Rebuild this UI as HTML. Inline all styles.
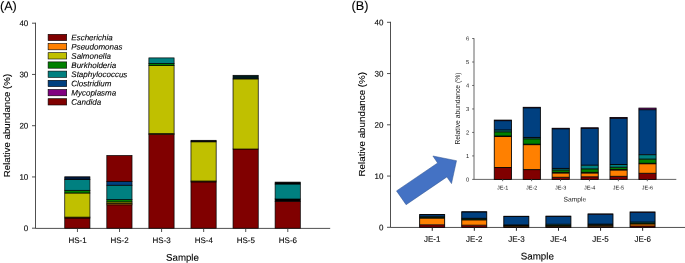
<!DOCTYPE html>
<html><head><meta charset="utf-8"><title>Relative abundance</title>
<style>
html,body{margin:0;padding:0;background:#fff;}
body{width:685px;height:263px;overflow:hidden;}
svg{display:block;font-family:"Liberation Sans",Arial,Helvetica,sans-serif;fill:#000;}
text{stroke:#000;stroke-width:0.1px;}
text.sm{stroke:none;fill:#222;}
</style></head>
<body>
<svg width="685" height="263" viewBox="0 0 685 263">
<rect x="0" y="0" width="685" height="263" fill="#fff" stroke="none"/>
<text x="0" y="10.2" transform="rotate(0.04 0 10.2)" font-size="12.6" text-anchor="start" >(A)</text>
<path d="M35.5 22.69999999999999V228.39999999999998H330.2" fill="none" stroke="#303030" stroke-width="0.85"/>
<path d="M32.0 228.20H35.5" stroke="#303030" stroke-width="0.85"/>
<text x="28.3" y="231.10" transform="rotate(0.04 28.3 231.10)" font-size="8" text-anchor="end" >0</text>
<path d="M32.0 176.95H35.5" stroke="#303030" stroke-width="0.85"/>
<text x="28.3" y="179.85" transform="rotate(0.04 28.3 179.85)" font-size="8" text-anchor="end" >10</text>
<path d="M32.0 125.70H35.5" stroke="#303030" stroke-width="0.85"/>
<text x="28.3" y="128.60" transform="rotate(0.04 28.3 128.60)" font-size="8" text-anchor="end" >20</text>
<path d="M32.0 74.45H35.5" stroke="#303030" stroke-width="0.85"/>
<text x="28.3" y="77.35" transform="rotate(0.04 28.3 77.35)" font-size="8" text-anchor="end" >30</text>
<path d="M32.0 23.20H35.5" stroke="#303030" stroke-width="0.85"/>
<text x="28.3" y="26.10" transform="rotate(0.04 28.3 26.10)" font-size="8" text-anchor="end" >40</text>
<text transform="translate(10 125.5) rotate(-90)" font-size="9.7" text-anchor="middle">Relative abundance (%)</text>
<rect x="64.75" y="218.00" width="25.20" height="10.20" fill="#800000" stroke="#000" stroke-width="0.7"/>
<rect x="64.75" y="217.10" width="25.20" height="0.90" fill="#FF8000" stroke="#000" stroke-width="0.7"/>
<rect x="64.75" y="193.00" width="25.20" height="24.10" fill="#C0C000" stroke="#000" stroke-width="0.7"/>
<rect x="64.75" y="190.30" width="25.20" height="2.70" fill="#008000" stroke="#000" stroke-width="0.7"/>
<rect x="64.75" y="179.50" width="25.20" height="10.80" fill="#008080" stroke="#000" stroke-width="0.7"/>
<rect x="64.75" y="176.80" width="25.20" height="2.70" fill="#00183A" stroke="#000" stroke-width="0.7"/>
<path d="M77.45 228.2V232.0" stroke="#303030" stroke-width="0.85"/>
<rect x="106.82" y="204.80" width="25.20" height="23.40" fill="#800000" stroke="#000" stroke-width="0.7"/>
<rect x="106.82" y="203.30" width="25.20" height="1.50" fill="#FF8000" stroke="#000" stroke-width="0.7"/>
<rect x="106.82" y="201.90" width="25.20" height="1.40" fill="#C0C000" stroke="#000" stroke-width="0.7"/>
<rect x="106.82" y="199.60" width="25.20" height="2.30" fill="#008000" stroke="#000" stroke-width="0.7"/>
<rect x="106.82" y="185.20" width="25.20" height="14.40" fill="#008080" stroke="#000" stroke-width="0.7"/>
<rect x="106.82" y="181.60" width="25.20" height="3.60" fill="#004080" stroke="#000" stroke-width="0.7"/>
<rect x="106.82" y="155.50" width="25.20" height="26.10" fill="#800000" stroke="#000" stroke-width="0.7"/>
<path d="M119.52 228.2V232.0" stroke="#303030" stroke-width="0.85"/>
<rect x="148.89" y="134.40" width="25.20" height="93.80" fill="#800000" stroke="#000" stroke-width="0.7"/>
<rect x="148.89" y="133.60" width="25.20" height="0.80" fill="#FF8000" stroke="#000" stroke-width="0.7"/>
<rect x="148.89" y="65.60" width="25.20" height="68.00" fill="#C0C000" stroke="#000" stroke-width="0.7"/>
<rect x="148.89" y="63.40" width="25.20" height="2.20" fill="#008000" stroke="#000" stroke-width="0.7"/>
<rect x="148.89" y="57.90" width="25.20" height="5.50" fill="#008080" stroke="#000" stroke-width="0.7"/>
<path d="M161.59 228.2V232.0" stroke="#303030" stroke-width="0.85"/>
<rect x="190.96" y="181.90" width="25.20" height="46.30" fill="#800000" stroke="#000" stroke-width="0.7"/>
<rect x="190.96" y="181.00" width="25.20" height="0.90" fill="#FF8000" stroke="#000" stroke-width="0.7"/>
<rect x="190.96" y="141.80" width="25.20" height="39.20" fill="#C0C000" stroke="#000" stroke-width="0.7"/>
<rect x="190.96" y="140.30" width="25.20" height="1.50" fill="#000000" stroke="#000" stroke-width="0.7"/>
<path d="M203.66 228.2V232.0" stroke="#303030" stroke-width="0.85"/>
<rect x="233.03" y="149.00" width="25.20" height="79.20" fill="#800000" stroke="#000" stroke-width="0.7"/>
<rect x="233.03" y="78.90" width="25.20" height="70.10" fill="#C0C000" stroke="#000" stroke-width="0.7"/>
<rect x="233.03" y="75.30" width="25.20" height="3.60" fill="#001C1C" stroke="#000" stroke-width="0.7"/>
<path d="M245.73 228.2V232.0" stroke="#303030" stroke-width="0.85"/>
<rect x="275.10" y="201.20" width="25.20" height="27.00" fill="#800000" stroke="#000" stroke-width="0.7"/>
<rect x="275.10" y="199.00" width="25.20" height="2.20" fill="#000000" stroke="#000" stroke-width="0.7"/>
<rect x="275.10" y="184.00" width="25.20" height="15.00" fill="#008080" stroke="#000" stroke-width="0.7"/>
<rect x="275.10" y="182.10" width="25.20" height="1.90" fill="#000000" stroke="#000" stroke-width="0.7"/>
<path d="M287.80 228.2V232.0" stroke="#303030" stroke-width="0.85"/>
<text x="77.55" y="242.9" transform="rotate(0.04 77.55 242.9)" font-size="8" text-anchor="middle" >HS-1</text>
<text x="119.62" y="242.9" transform="rotate(0.04 119.62 242.9)" font-size="8" text-anchor="middle" >HS-2</text>
<text x="161.69" y="242.9" transform="rotate(0.04 161.69 242.9)" font-size="8" text-anchor="middle" >HS-3</text>
<text x="203.76" y="242.9" transform="rotate(0.04 203.76 242.9)" font-size="8" text-anchor="middle" >HS-4</text>
<text x="245.83" y="242.9" transform="rotate(0.04 245.83 242.9)" font-size="8" text-anchor="middle" >HS-5</text>
<text x="287.90" y="242.9" transform="rotate(0.04 287.90 242.9)" font-size="8" text-anchor="middle" >HS-6</text>
<text x="182.5" y="260.7" transform="rotate(0.04 182.5 260.7)" font-size="9.7" text-anchor="middle" >Sample</text>
<rect x="48.1" y="34.30" width="18.6" height="6.3" fill="#800000" stroke="#000" stroke-width="0.6"/>
<text x="71.3" y="40.30" transform="rotate(0.04 71.3 40.30)" font-size="8" text-anchor="start" font-style="italic">Escherichia</text>
<rect x="48.1" y="43.50" width="18.6" height="6.3" fill="#FF8000" stroke="#000" stroke-width="0.6"/>
<text x="71.3" y="49.50" transform="rotate(0.04 71.3 49.50)" font-size="8" text-anchor="start" font-style="italic">Pseudomonas</text>
<rect x="48.1" y="52.70" width="18.6" height="6.3" fill="#C0C000" stroke="#000" stroke-width="0.6"/>
<text x="71.3" y="58.70" transform="rotate(0.04 71.3 58.70)" font-size="8" text-anchor="start" font-style="italic">Salmonella</text>
<rect x="48.1" y="61.90" width="18.6" height="6.3" fill="#008000" stroke="#000" stroke-width="0.6"/>
<text x="71.3" y="67.90" transform="rotate(0.04 71.3 67.90)" font-size="8" text-anchor="start" font-style="italic">Burkholderia</text>
<rect x="48.1" y="71.10" width="18.6" height="6.3" fill="#008080" stroke="#000" stroke-width="0.6"/>
<text x="71.3" y="77.10" transform="rotate(0.04 71.3 77.10)" font-size="8" text-anchor="start" font-style="italic">Staphylococcus</text>
<rect x="48.1" y="80.30" width="18.6" height="6.3" fill="#004080" stroke="#000" stroke-width="0.6"/>
<text x="71.3" y="86.30" transform="rotate(0.04 71.3 86.30)" font-size="8" text-anchor="start" font-style="italic">Clostridium</text>
<rect x="48.1" y="89.50" width="18.6" height="6.3" fill="#800080" stroke="#000" stroke-width="0.6"/>
<text x="71.3" y="95.50" transform="rotate(0.04 71.3 95.50)" font-size="8" text-anchor="start" font-style="italic">Mycoplasma</text>
<rect x="48.1" y="98.70" width="18.6" height="6.3" fill="#800000" stroke="#000" stroke-width="0.6"/>
<text x="71.3" y="104.70" transform="rotate(0.04 71.3 104.70)" font-size="8" text-anchor="start" font-style="italic">Candida</text>
<text x="351.5" y="10.0" transform="rotate(0.04 351.5 10.0)" font-size="12.7" text-anchor="start" >(B)</text>
<path d="M390.5 21.80000000000001V227.45000000000002H685" fill="none" stroke="#303030" stroke-width="0.85"/>
<path d="M387.0 227.30H390.5" stroke="#303030" stroke-width="0.85"/>
<text x="383.4" y="230.20" transform="rotate(0.04 383.4 230.20)" font-size="8" text-anchor="end" >0</text>
<path d="M387.0 176.05H390.5" stroke="#303030" stroke-width="0.85"/>
<text x="383.4" y="178.95" transform="rotate(0.04 383.4 178.95)" font-size="8" text-anchor="end" >10</text>
<path d="M387.0 124.80H390.5" stroke="#303030" stroke-width="0.85"/>
<text x="383.4" y="127.70" transform="rotate(0.04 383.4 127.70)" font-size="8" text-anchor="end" >20</text>
<path d="M387.0 73.55H390.5" stroke="#303030" stroke-width="0.85"/>
<text x="383.4" y="76.45" transform="rotate(0.04 383.4 76.45)" font-size="8" text-anchor="end" >30</text>
<path d="M387.0 22.30H390.5" stroke="#303030" stroke-width="0.85"/>
<text x="383.4" y="25.20" transform="rotate(0.04 383.4 25.20)" font-size="8" text-anchor="end" >40</text>
<text transform="translate(365.3 124.2) rotate(-90)" font-size="9.8" text-anchor="middle">Relative abundance (%)</text>
<rect x="419.65" y="224.75" width="25.00" height="2.55" fill="#800000"/>
<rect x="419.65" y="218.10" width="25.00" height="6.65" fill="#FF8000"/>
<rect x="419.65" y="218.00" width="25.00" height="0.10" fill="#C0C000"/>
<rect x="419.65" y="217.10" width="25.00" height="0.90" fill="#008000"/>
<rect x="419.65" y="216.70" width="25.00" height="0.40" fill="#008080"/>
<rect x="419.65" y="214.70" width="25.00" height="2.00" fill="#004080"/>
<rect x="419.65" y="214.58" width="25.00" height="0.12" fill="#800080"/>
<path d="M419.65 224.75H444.65" stroke="#000" stroke-width="0.8"/>
<path d="M419.65 218.10H444.65" stroke="#000" stroke-width="0.8"/>
<path d="M419.65 218.00H444.65" stroke="#000" stroke-width="0.8"/>
<path d="M419.65 217.10H444.65" stroke="#000" stroke-width="0.8"/>
<path d="M419.65 216.70H444.65" stroke="#000" stroke-width="0.8"/>
<path d="M419.65 214.70H444.65" stroke="#000" stroke-width="0.8"/>
<rect x="419.65" y="214.58" width="25.00" height="12.72" fill="none" stroke="#000" stroke-width="0.9"/>
<path d="M432.25 227.3V230.8" stroke="#222" stroke-width="1"/>
<rect x="461.73" y="225.20" width="25.00" height="2.10" fill="#800000"/>
<rect x="461.73" y="219.85" width="25.00" height="5.35" fill="#FF8000"/>
<rect x="461.73" y="219.75" width="25.00" height="0.10" fill="#C0C000"/>
<rect x="461.73" y="218.60" width="25.00" height="1.15" fill="#008000"/>
<rect x="461.73" y="218.30" width="25.00" height="0.30" fill="#008080"/>
<rect x="461.73" y="211.95" width="25.00" height="6.35" fill="#004080"/>
<rect x="461.73" y="211.83" width="25.00" height="0.12" fill="#800080"/>
<path d="M461.73 225.20H486.73" stroke="#000" stroke-width="0.8"/>
<path d="M461.73 219.85H486.73" stroke="#000" stroke-width="0.8"/>
<path d="M461.73 219.75H486.73" stroke="#000" stroke-width="0.8"/>
<path d="M461.73 218.60H486.73" stroke="#000" stroke-width="0.8"/>
<path d="M461.73 218.30H486.73" stroke="#000" stroke-width="0.8"/>
<path d="M461.73 211.95H486.73" stroke="#000" stroke-width="0.8"/>
<rect x="461.73" y="211.83" width="25.00" height="15.47" fill="none" stroke="#000" stroke-width="0.9"/>
<path d="M474.33 227.3V230.8" stroke="#222" stroke-width="1"/>
<rect x="503.81" y="226.85" width="25.00" height="0.45" fill="#800000"/>
<rect x="503.81" y="225.95" width="25.00" height="0.90" fill="#FF8000"/>
<rect x="503.81" y="225.80" width="25.00" height="0.15" fill="#C0C000"/>
<rect x="503.81" y="225.30" width="25.00" height="0.50" fill="#008000"/>
<rect x="503.81" y="224.95" width="25.00" height="0.35" fill="#008080"/>
<rect x="503.81" y="216.45" width="25.00" height="8.50" fill="#004080"/>
<rect x="503.81" y="216.33" width="25.00" height="0.12" fill="#800080"/>
<path d="M503.81 226.85H528.81" stroke="#000" stroke-width="0.8"/>
<path d="M503.81 225.95H528.81" stroke="#000" stroke-width="0.8"/>
<path d="M503.81 225.80H528.81" stroke="#000" stroke-width="0.8"/>
<path d="M503.81 225.30H528.81" stroke="#000" stroke-width="0.8"/>
<path d="M503.81 224.95H528.81" stroke="#000" stroke-width="0.8"/>
<path d="M503.81 216.45H528.81" stroke="#000" stroke-width="0.8"/>
<rect x="503.81" y="216.33" width="25.00" height="10.97" fill="none" stroke="#000" stroke-width="0.9"/>
<path d="M516.41 227.3V230.8" stroke="#222" stroke-width="1"/>
<rect x="545.89" y="226.75" width="25.00" height="0.55" fill="#800000"/>
<rect x="545.89" y="225.95" width="25.00" height="0.80" fill="#FF8000"/>
<rect x="545.89" y="225.80" width="25.00" height="0.15" fill="#C0C000"/>
<rect x="545.89" y="225.05" width="25.00" height="0.75" fill="#008000"/>
<rect x="545.89" y="224.25" width="25.00" height="0.80" fill="#008080"/>
<rect x="545.89" y="216.35" width="25.00" height="7.90" fill="#004080"/>
<rect x="545.89" y="216.23" width="25.00" height="0.12" fill="#800080"/>
<path d="M545.89 226.75H570.89" stroke="#000" stroke-width="0.8"/>
<path d="M545.89 225.95H570.89" stroke="#000" stroke-width="0.8"/>
<path d="M545.89 225.80H570.89" stroke="#000" stroke-width="0.8"/>
<path d="M545.89 225.05H570.89" stroke="#000" stroke-width="0.8"/>
<path d="M545.89 224.25H570.89" stroke="#000" stroke-width="0.8"/>
<path d="M545.89 216.35H570.89" stroke="#000" stroke-width="0.8"/>
<rect x="545.89" y="216.23" width="25.00" height="11.07" fill="none" stroke="#000" stroke-width="0.9"/>
<path d="M558.49 227.3V230.8" stroke="#222" stroke-width="1"/>
<rect x="587.97" y="226.65" width="25.00" height="0.65" fill="#800000"/>
<rect x="587.97" y="225.30" width="25.00" height="1.35" fill="#FF8000"/>
<rect x="587.97" y="225.20" width="25.00" height="0.10" fill="#C0C000"/>
<rect x="587.97" y="224.70" width="25.00" height="0.50" fill="#008000"/>
<rect x="587.97" y="224.10" width="25.00" height="0.60" fill="#008080"/>
<rect x="587.97" y="214.20" width="25.00" height="9.90" fill="#004080"/>
<rect x="587.97" y="214.00" width="25.00" height="0.20" fill="#800080"/>
<path d="M587.97 226.65H612.97" stroke="#000" stroke-width="0.8"/>
<path d="M587.97 225.30H612.97" stroke="#000" stroke-width="0.8"/>
<path d="M587.97 225.20H612.97" stroke="#000" stroke-width="0.8"/>
<path d="M587.97 224.70H612.97" stroke="#000" stroke-width="0.8"/>
<path d="M587.97 224.10H612.97" stroke="#000" stroke-width="0.8"/>
<path d="M587.97 214.20H612.97" stroke="#000" stroke-width="0.8"/>
<rect x="587.97" y="214.00" width="25.00" height="13.30" fill="none" stroke="#000" stroke-width="0.9"/>
<path d="M600.57 227.3V230.8" stroke="#222" stroke-width="1"/>
<rect x="630.05" y="226.00" width="25.00" height="1.30" fill="#800000"/>
<rect x="630.05" y="223.95" width="25.00" height="2.05" fill="#FF8000"/>
<rect x="630.05" y="223.85" width="25.00" height="0.10" fill="#C0C000"/>
<rect x="630.05" y="222.95" width="25.00" height="0.90" fill="#008000"/>
<rect x="630.05" y="222.00" width="25.00" height="0.95" fill="#008080"/>
<rect x="630.05" y="212.35" width="25.00" height="9.65" fill="#004080"/>
<rect x="630.05" y="212.00" width="25.00" height="0.35" fill="#800080"/>
<path d="M630.05 226.00H655.05" stroke="#000" stroke-width="0.8"/>
<path d="M630.05 223.95H655.05" stroke="#000" stroke-width="0.8"/>
<path d="M630.05 223.85H655.05" stroke="#000" stroke-width="0.8"/>
<path d="M630.05 222.95H655.05" stroke="#000" stroke-width="0.8"/>
<path d="M630.05 222.00H655.05" stroke="#000" stroke-width="0.8"/>
<path d="M630.05 212.35H655.05" stroke="#000" stroke-width="0.8"/>
<rect x="630.05" y="212.00" width="25.00" height="15.30" fill="none" stroke="#000" stroke-width="0.9"/>
<path d="M642.65 227.3V230.8" stroke="#222" stroke-width="1"/>
<text x="432.25" y="241.8" transform="rotate(0.04 432.25 241.8)" font-size="8" text-anchor="middle" >JE-1</text>
<text x="474.33" y="241.8" transform="rotate(0.04 474.33 241.8)" font-size="8" text-anchor="middle" >JE-2</text>
<text x="516.41" y="241.8" transform="rotate(0.04 516.41 241.8)" font-size="8" text-anchor="middle" >JE-3</text>
<text x="558.49" y="241.8" transform="rotate(0.04 558.49 241.8)" font-size="8" text-anchor="middle" >JE-4</text>
<text x="600.57" y="241.8" transform="rotate(0.04 600.57 241.8)" font-size="8" text-anchor="middle" >JE-5</text>
<text x="642.65" y="241.8" transform="rotate(0.04 642.65 241.8)" font-size="8" text-anchor="middle" >JE-6</text>
<text x="537.3" y="259.4" transform="rotate(0.04 537.3 259.4)" font-size="9.8" text-anchor="middle" >Sample</text>
<path d="M474.0 38.22V179.4H676.3" fill="none" stroke="#555" stroke-width="0.9"/>
<path d="M472.2 179.40H474.0" stroke="#555" stroke-width="0.9"/>
<text x="469.2" y="181.45" transform="rotate(0.04 469.2 181.45)" font-size="5.7" text-anchor="end" class="sm">0</text>
<path d="M472.2 155.92H474.0" stroke="#555" stroke-width="0.9"/>
<text x="469.2" y="157.97" transform="rotate(0.04 469.2 157.97)" font-size="5.7" text-anchor="end" class="sm">1</text>
<path d="M472.2 132.44H474.0" stroke="#555" stroke-width="0.9"/>
<text x="469.2" y="134.49" transform="rotate(0.04 469.2 134.49)" font-size="5.7" text-anchor="end" class="sm">2</text>
<path d="M472.2 108.96H474.0" stroke="#555" stroke-width="0.9"/>
<text x="469.2" y="111.01" transform="rotate(0.04 469.2 111.01)" font-size="5.7" text-anchor="end" class="sm">3</text>
<path d="M472.2 85.48H474.0" stroke="#555" stroke-width="0.9"/>
<text x="469.2" y="87.53" transform="rotate(0.04 469.2 87.53)" font-size="5.7" text-anchor="end" class="sm">4</text>
<path d="M472.2 62.00H474.0" stroke="#555" stroke-width="0.9"/>
<text x="469.2" y="64.05" transform="rotate(0.04 469.2 64.05)" font-size="5.7" text-anchor="end" class="sm">5</text>
<path d="M472.2 38.52H474.0" stroke="#555" stroke-width="0.9"/>
<text x="469.2" y="40.57" transform="rotate(0.04 469.2 40.57)" font-size="5.7" text-anchor="end" class="sm">6</text>
<text class="sm" transform="translate(460.2 108.6) rotate(-90)" font-size="6.75" text-anchor="middle">Relative abundance (%)</text>
<rect x="494.25" y="167.52" width="17.20" height="11.88" fill="#800000"/>
<rect x="494.25" y="136.53" width="17.20" height="30.99" fill="#FF8000"/>
<rect x="494.25" y="136.06" width="17.20" height="0.47" fill="#C0C000"/>
<rect x="494.25" y="131.87" width="17.20" height="4.19" fill="#008000"/>
<rect x="494.25" y="130.00" width="17.20" height="1.86" fill="#008080"/>
<rect x="494.25" y="120.68" width="17.20" height="9.32" fill="#004080"/>
<rect x="494.25" y="120.10" width="17.20" height="0.58" fill="#800080"/>
<path d="M494.25 167.52H511.45" stroke="#000" stroke-width="0.95"/>
<path d="M494.25 136.53H511.45" stroke="#000" stroke-width="0.95"/>
<path d="M494.25 136.06H511.45" stroke="#000" stroke-width="0.95"/>
<path d="M494.25 131.87H511.45" stroke="#000" stroke-width="0.95"/>
<path d="M494.25 130.00H511.45" stroke="#000" stroke-width="0.95"/>
<path d="M494.25 120.68H511.45" stroke="#000" stroke-width="0.95"/>
<rect x="494.25" y="120.10" width="17.20" height="59.30" fill="none" stroke="#000" stroke-width="0.85"/>
<path d="M502.65 179.4V181.20000000000002" stroke="#555" stroke-width="0.9"/>
<rect x="523.18" y="169.61" width="17.20" height="9.79" fill="#800000"/>
<rect x="523.18" y="144.68" width="17.20" height="24.93" fill="#FF8000"/>
<rect x="523.18" y="144.22" width="17.20" height="0.47" fill="#C0C000"/>
<rect x="523.18" y="138.86" width="17.20" height="5.36" fill="#008000"/>
<rect x="523.18" y="137.46" width="17.20" height="1.40" fill="#008080"/>
<rect x="523.18" y="107.87" width="17.20" height="29.59" fill="#004080"/>
<rect x="523.18" y="107.29" width="17.20" height="0.58" fill="#800080"/>
<path d="M523.18 169.61H540.38" stroke="#000" stroke-width="0.95"/>
<path d="M523.18 144.68H540.38" stroke="#000" stroke-width="0.95"/>
<path d="M523.18 144.22H540.38" stroke="#000" stroke-width="0.95"/>
<path d="M523.18 138.86H540.38" stroke="#000" stroke-width="0.95"/>
<path d="M523.18 137.46H540.38" stroke="#000" stroke-width="0.95"/>
<path d="M523.18 107.87H540.38" stroke="#000" stroke-width="0.95"/>
<rect x="523.18" y="107.29" width="17.20" height="72.11" fill="none" stroke="#000" stroke-width="0.85"/>
<path d="M531.58 179.4V181.20000000000002" stroke="#555" stroke-width="0.9"/>
<rect x="552.11" y="177.30" width="17.20" height="2.10" fill="#800000"/>
<rect x="552.11" y="173.11" width="17.20" height="4.19" fill="#FF8000"/>
<rect x="552.11" y="172.41" width="17.20" height="0.70" fill="#C0C000"/>
<rect x="552.11" y="170.08" width="17.20" height="2.33" fill="#008000"/>
<rect x="552.11" y="168.45" width="17.20" height="1.63" fill="#008080"/>
<rect x="552.11" y="128.84" width="17.20" height="39.61" fill="#004080"/>
<rect x="552.11" y="128.26" width="17.20" height="0.58" fill="#800080"/>
<path d="M552.11 177.30H569.31" stroke="#000" stroke-width="0.95"/>
<path d="M552.11 173.11H569.31" stroke="#000" stroke-width="0.95"/>
<path d="M552.11 172.41H569.31" stroke="#000" stroke-width="0.95"/>
<path d="M552.11 170.08H569.31" stroke="#000" stroke-width="0.95"/>
<path d="M552.11 168.45H569.31" stroke="#000" stroke-width="0.95"/>
<path d="M552.11 128.84H569.31" stroke="#000" stroke-width="0.95"/>
<rect x="552.11" y="128.26" width="17.20" height="51.14" fill="none" stroke="#000" stroke-width="0.85"/>
<path d="M560.51 179.4V181.20000000000002" stroke="#555" stroke-width="0.9"/>
<rect x="581.04" y="176.84" width="17.20" height="2.56" fill="#800000"/>
<rect x="581.04" y="173.11" width="17.20" height="3.73" fill="#FF8000"/>
<rect x="581.04" y="172.41" width="17.20" height="0.70" fill="#C0C000"/>
<rect x="581.04" y="168.91" width="17.20" height="3.50" fill="#008000"/>
<rect x="581.04" y="165.19" width="17.20" height="3.73" fill="#008080"/>
<rect x="581.04" y="128.37" width="17.20" height="36.81" fill="#004080"/>
<rect x="581.04" y="127.79" width="17.20" height="0.58" fill="#800080"/>
<path d="M581.04 176.84H598.24" stroke="#000" stroke-width="0.95"/>
<path d="M581.04 173.11H598.24" stroke="#000" stroke-width="0.95"/>
<path d="M581.04 172.41H598.24" stroke="#000" stroke-width="0.95"/>
<path d="M581.04 168.91H598.24" stroke="#000" stroke-width="0.95"/>
<path d="M581.04 165.19H598.24" stroke="#000" stroke-width="0.95"/>
<path d="M581.04 128.37H598.24" stroke="#000" stroke-width="0.95"/>
<rect x="581.04" y="127.79" width="17.20" height="51.61" fill="none" stroke="#000" stroke-width="0.85"/>
<path d="M589.44 179.4V181.20000000000002" stroke="#555" stroke-width="0.9"/>
<rect x="609.97" y="176.37" width="17.20" height="3.03" fill="#800000"/>
<rect x="609.97" y="170.08" width="17.20" height="6.29" fill="#FF8000"/>
<rect x="609.97" y="169.61" width="17.20" height="0.47" fill="#C0C000"/>
<rect x="609.97" y="167.28" width="17.20" height="2.33" fill="#008000"/>
<rect x="609.97" y="164.49" width="17.20" height="2.80" fill="#008080"/>
<rect x="609.97" y="118.35" width="17.20" height="46.13" fill="#004080"/>
<rect x="609.97" y="117.42" width="17.20" height="0.93" fill="#800080"/>
<path d="M609.97 176.37H627.17" stroke="#000" stroke-width="0.95"/>
<path d="M609.97 170.08H627.17" stroke="#000" stroke-width="0.95"/>
<path d="M609.97 169.61H627.17" stroke="#000" stroke-width="0.95"/>
<path d="M609.97 167.28H627.17" stroke="#000" stroke-width="0.95"/>
<path d="M609.97 164.49H627.17" stroke="#000" stroke-width="0.95"/>
<path d="M609.97 118.35H627.17" stroke="#000" stroke-width="0.95"/>
<rect x="609.97" y="117.42" width="17.20" height="61.98" fill="none" stroke="#000" stroke-width="0.85"/>
<path d="M618.37 179.4V181.20000000000002" stroke="#555" stroke-width="0.9"/>
<rect x="638.90" y="173.34" width="17.20" height="6.06" fill="#800000"/>
<rect x="638.90" y="163.79" width="17.20" height="9.55" fill="#FF8000"/>
<rect x="638.90" y="163.32" width="17.20" height="0.47" fill="#C0C000"/>
<rect x="638.90" y="159.13" width="17.20" height="4.19" fill="#008000"/>
<rect x="638.90" y="154.70" width="17.20" height="4.43" fill="#008080"/>
<rect x="638.90" y="109.73" width="17.20" height="44.97" fill="#004080"/>
<rect x="638.90" y="108.10" width="17.20" height="1.63" fill="#800080"/>
<path d="M638.90 173.34H656.10" stroke="#000" stroke-width="0.95"/>
<path d="M638.90 163.79H656.10" stroke="#000" stroke-width="0.95"/>
<path d="M638.90 163.32H656.10" stroke="#000" stroke-width="0.95"/>
<path d="M638.90 159.13H656.10" stroke="#000" stroke-width="0.95"/>
<path d="M638.90 154.70H656.10" stroke="#000" stroke-width="0.95"/>
<path d="M638.90 109.73H656.10" stroke="#000" stroke-width="0.95"/>
<rect x="638.90" y="108.10" width="17.20" height="71.30" fill="none" stroke="#000" stroke-width="0.85"/>
<path d="M647.30 179.4V181.20000000000002" stroke="#555" stroke-width="0.9"/>
<text x="502.75" y="189.5" transform="rotate(0.04 502.75 189.5)" font-size="5.5" text-anchor="middle" class="sm">JE-1</text>
<text x="531.68" y="189.5" transform="rotate(0.04 531.68 189.5)" font-size="5.5" text-anchor="middle" class="sm">JE-2</text>
<text x="560.61" y="189.5" transform="rotate(0.04 560.61 189.5)" font-size="5.5" text-anchor="middle" class="sm">JE-3</text>
<text x="589.54" y="189.5" transform="rotate(0.04 589.54 189.5)" font-size="5.5" text-anchor="middle" class="sm">JE-4</text>
<text x="618.47" y="189.5" transform="rotate(0.04 618.47 189.5)" font-size="5.5" text-anchor="middle" class="sm">JE-5</text>
<text x="647.40" y="189.5" transform="rotate(0.04 647.40 189.5)" font-size="5.5" text-anchor="middle" class="sm">JE-6</text>
<text x="574.9" y="201.5" transform="rotate(0.04 574.9 201.5)" font-size="6.7" text-anchor="middle" class="sm">Sample</text>
<polygon points="396.5,190.9 437.6,163.0 432.9,156.0 456.5,160.7 451.5,183.6 446.9,176.9 406.1,204.7" fill="#4472C4" stroke="#2F528F" stroke-width="0.5" stroke-linejoin="miter"/>
</svg>
</body></html>
